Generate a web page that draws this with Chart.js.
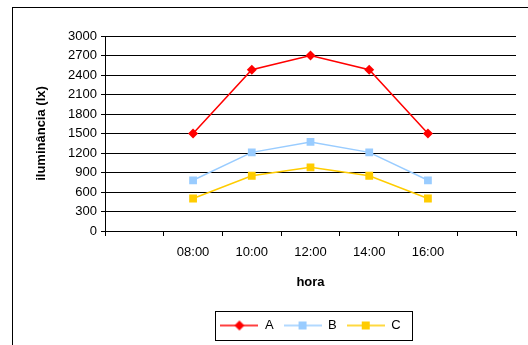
<!DOCTYPE html>
<html>
<head>
<meta charset="utf-8">
<script src="https://cdn.jsdelivr.net/npm/chart.js@4.4.1/dist/chart.umd.min.js"></script>
<style>
  html, body { margin: 0; padding: 0; background: #fff; overflow: hidden; }
  #wrap { position: relative; width: 528px; height: 345px; }
</style>
</head>
<body>
<div id="wrap"><canvas id="c" width="528" height="345"></canvas></div>
<script>
// Hours of measurement (empty slots keep a margin at both ends of the axis)
const hours = ['', '08:00', '10:00', '12:00', '14:00', '16:00', ''];
// Illuminance readings (lx) per series
const seriesA = [null, 1500, 2480, 2700, 2480, 1500, null];
const seriesB = [null, 780, 1210, 1370, 1210, 780, null];
const seriesC = [null, 500, 850, 980, 850, 500, null];
const seriesNames = ['A', 'B', 'C'];
const yTicks = { min: 0, max: 3000, step: 300 };

const FONT = '"Liberation Sans", Arial, Helvetica, sans-serif';
const colors = ['#FF0000', '#99CCFF', '#FFCC00'];
const shapes = ['rectRot', 'rect', 'rect'];
const radii = [5, 5.5, 5.5];

// small line + marker swatch for legend entries
function swatch(color, shape) {
  const cv = document.createElement('canvas');
  cv.width = 38; cv.height = 12;
  const g = cv.getContext('2d');
  g.strokeStyle = color; g.lineWidth = 1.5;
  g.beginPath(); g.moveTo(0, 6); g.lineTo(38, 6); g.stroke();
  g.fillStyle = color;
  if (shape === 'rectRot') {
    g.beginPath(); g.moveTo(19, 1); g.lineTo(24, 6); g.lineTo(19, 11); g.lineTo(14, 6); g.closePath(); g.fill();
  } else {
    g.fillRect(15, 2, 8, 8);
  }
  return cv;
}

const frame = {
  id: 'frame',
  beforeDraw(chart) {
    const ctx = chart.ctx;
    ctx.save();
    ctx.fillStyle = '#fff';
    ctx.fillRect(0, 0, chart.width, chart.height);
    ctx.strokeStyle = '#000';
    ctx.lineWidth = 1;
    ctx.strokeRect(12.5, 7.5, 1000, 1000);
    ctx.restore();
  },
  afterDraw(chart) {
    const hb = chart.legend.legendHitBoxes;
    if (!hb || !hb.length) return;
    const first = hb[0], last = hb[hb.length - 1];
    const cy = first.top + first.height / 2;
    const ctx = chart.ctx;
    ctx.save();
    ctx.strokeStyle = '#000';
    ctx.lineWidth = 1;
    const l = Math.round(first.left - 5) + 0.5;
    const r = Math.round(last.left + last.width + 11) + 0.5;
    const t = Math.round(cy - 14.5) + 0.5;
    const b = Math.round(cy + 14.5) + 0.5;
    ctx.strokeRect(l, t, r - l, b - t);
    ctx.restore();
  }
};

const values = [seriesA, seriesB, seriesC];
const datasets = values.map((d, i) => ({
  label: seriesNames[i],
  data: d,
  borderColor: colors[i],
  backgroundColor: colors[i],
  borderWidth: 1.5,
  pointStyle: shapes[i],
  pointRadius: radii[i],
  pointBorderWidth: 0,
  pointBackgroundColor: colors[i],
  tension: 0,
  spanGaps: false
}));

new Chart(document.getElementById('c'), {
  type: 'line',
  data: { labels: hours, datasets },
  plugins: [frame],
  options: {
    responsive: false,
    animation: false,
    devicePixelRatio: 1,
    layout: { padding: { left: 0, right: 12, top: 36, bottom: 3 } },
    plugins: {
      tooltip: { enabled: false },
      legend: {
        position: 'bottom',
        fullSize: false,
        labels: {
          usePointStyle: true,
          pointStyleWidth: 38,
          padding: 10,
          color: '#000',
          font: { family: FONT, size: 13 },
          generateLabels(chart) {
            return chart.data.datasets.map((ds, i) => ({
              text: ds.label,
              pointStyle: swatch(colors[i], shapes[i]),
              fillStyle: colors[i],
              strokeStyle: colors[i],
              lineWidth: 0,
              fontColor: '#000',
              datasetIndex: i
            }));
          }
        }
      }
    },
    scales: {
      x: {
        type: 'category',
        offset: true,
        afterFit(s) { s.height = 78; },
        grid: { offset: true, drawOnChartArea: false, drawTicks: true, tickLength: 5, color: '#000', lineWidth: 1 },
        border: { color: '#000', width: 1 },
        ticks: { color: '#000', font: { family: FONT, size: 13 }, padding: 9, maxRotation: 0, autoSkip: false },
        title: { display: true, text: 'hora', color: '#000', font: { family: FONT, size: 13, weight: 'bold' }, padding: { top: 0, bottom: 19 } }
      },
      y: {
        min: yTicks.min,
        max: yTicks.max,
        afterFit(s) { s.width = 105; },
        grid: { color: '#000', lineWidth: 1, drawTicks: true, tickLength: 4 },
        border: { color: '#000', width: 1 },
        ticks: { stepSize: yTicks.step, color: '#000', font: { family: FONT, size: 13 }, padding: 4, callback: v => String(v) },
        title: { display: true, text: 'iluminância (lx)', color: '#000', font: { family: FONT, size: 13, weight: 'bold' }, padding: { top: 34, bottom: 0 } }
      }
    }
  }
});
</script>
</body>
</html>
